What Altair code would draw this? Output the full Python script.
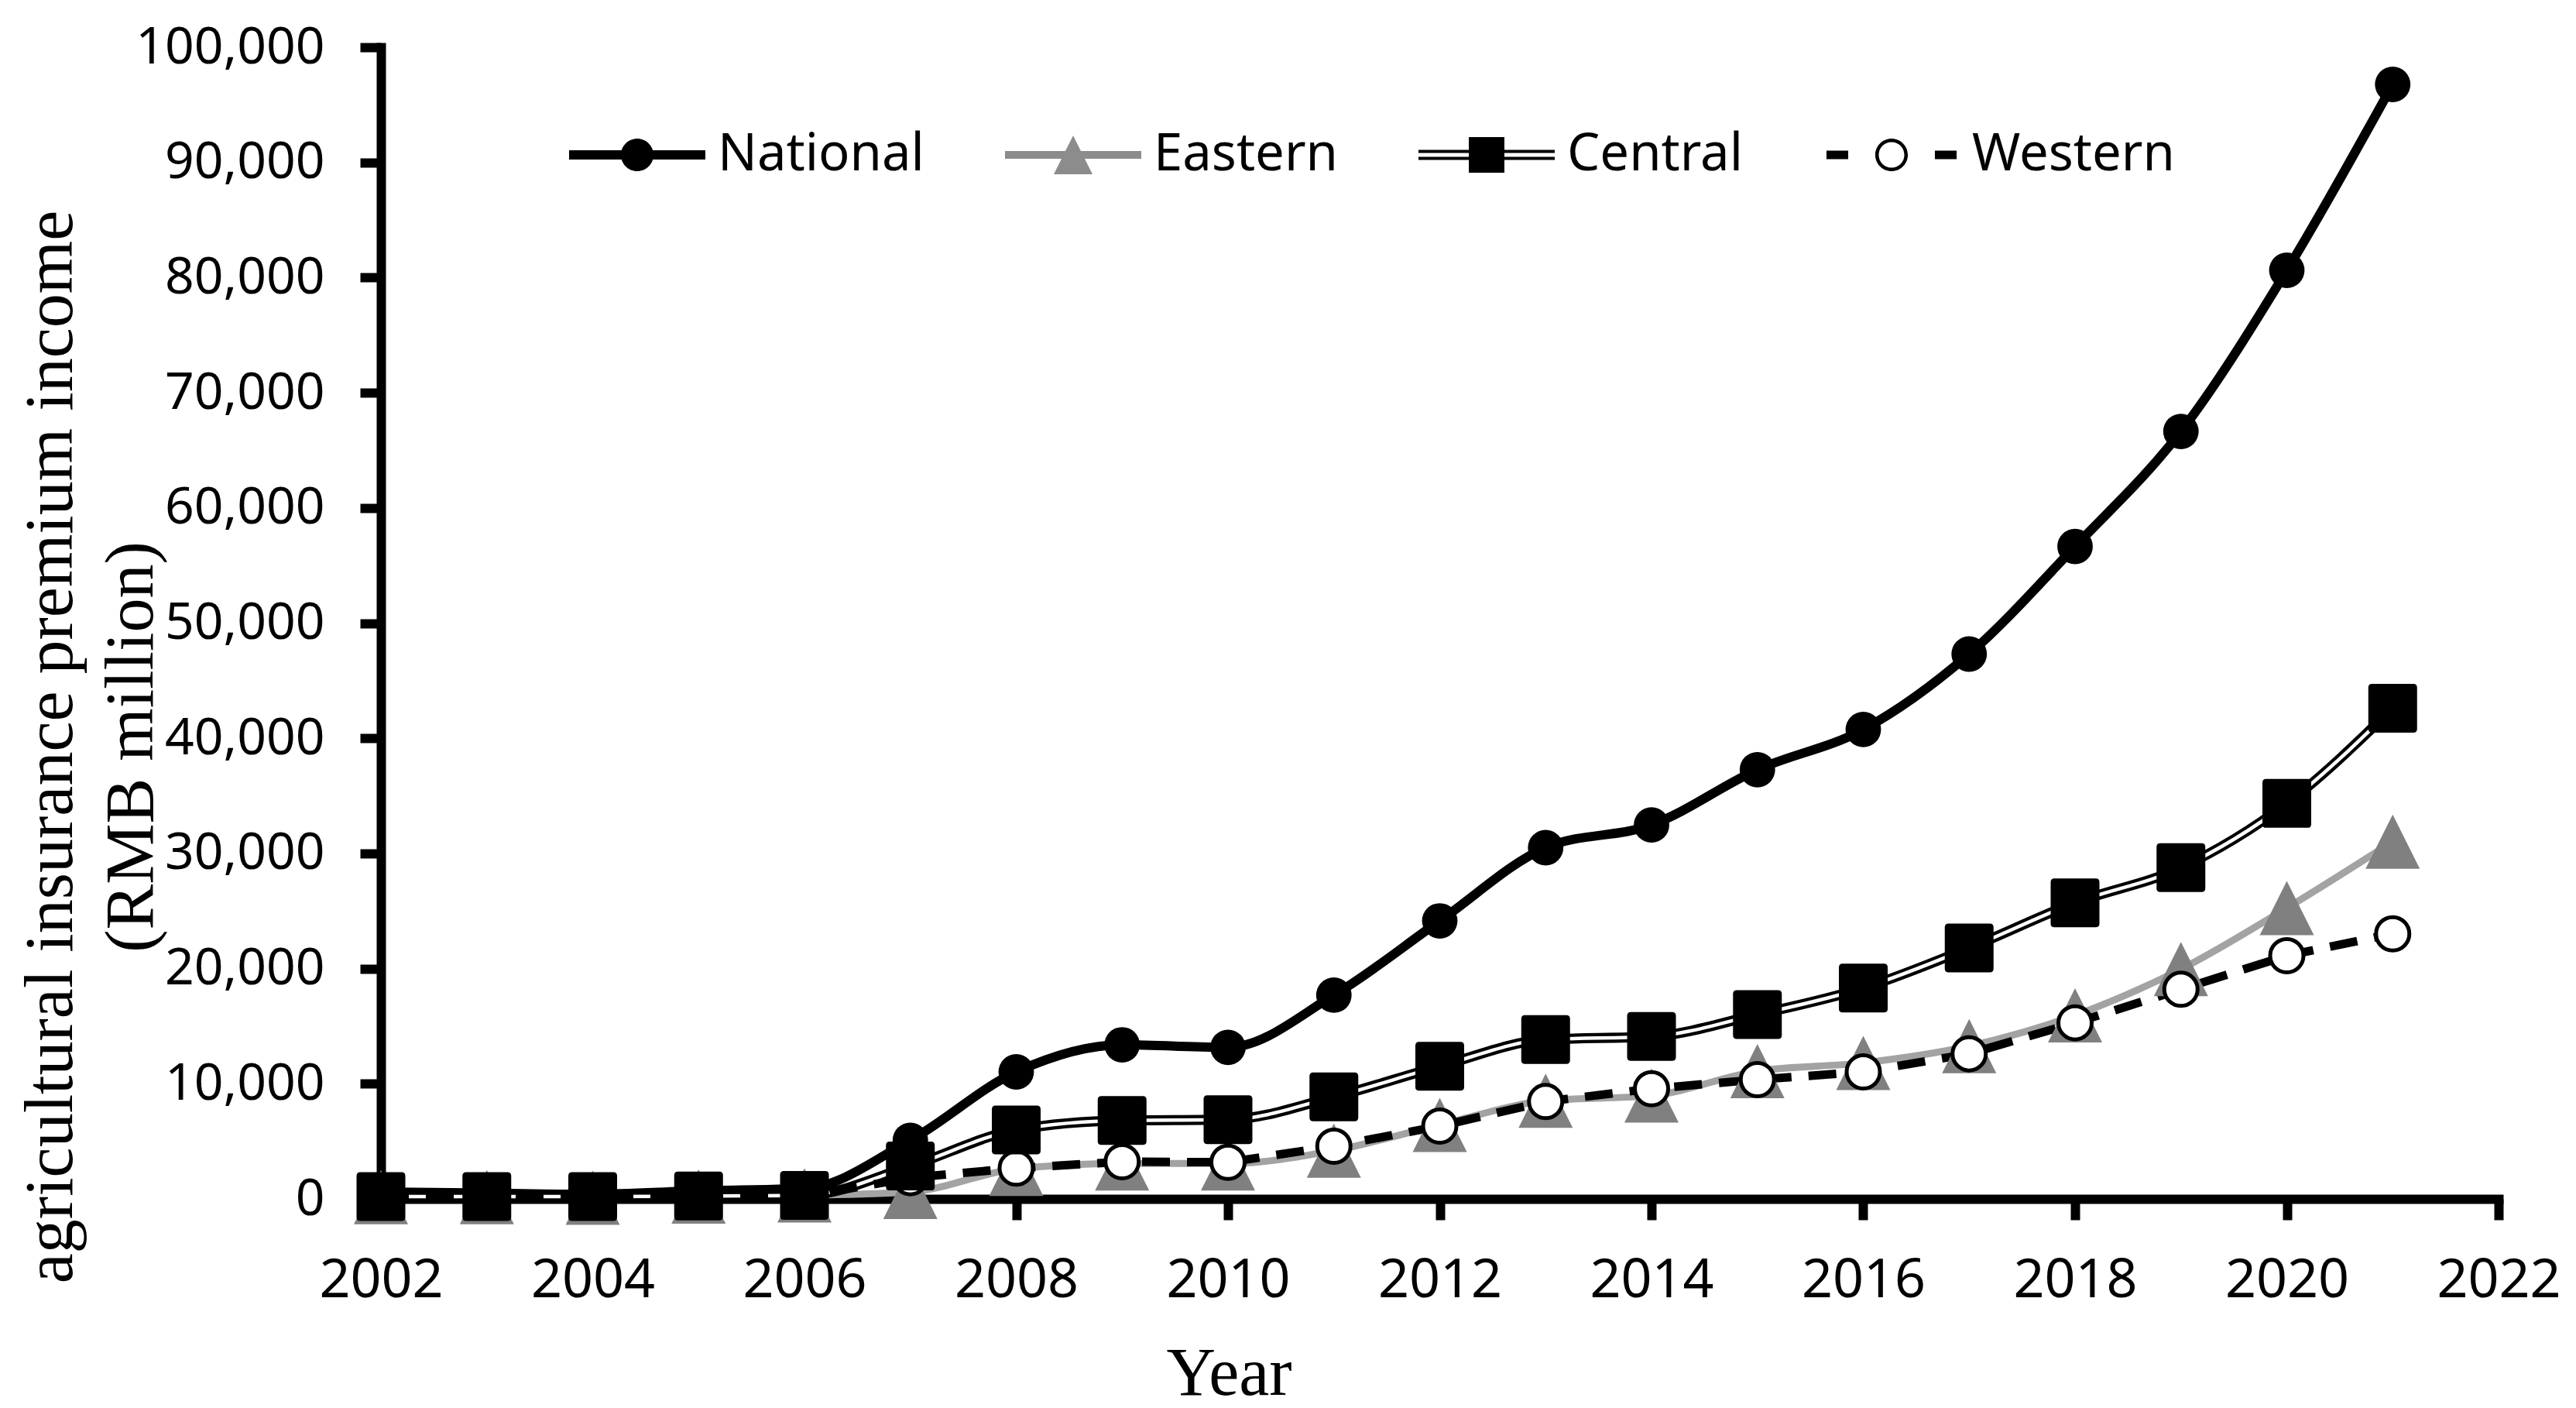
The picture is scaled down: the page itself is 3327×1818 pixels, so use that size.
import altair as alt
import pandas as pd

# ---- data (RMB million) ----
years = list(range(2002, 2022))
national = [600, 500, 400, 700, 900, 5090, 11030, 13380, 13160, 17690, 24140, 30500,
            32470, 37270, 40760, 47310, 56650, 66640, 80630, 96770]
eastern = [150, 150, 100, 200, 300, 600, 2600, 3070, 3070, 4190, 6430, 8520,
           8970, 11100, 11810, 13270, 15940, 19950, 25260, 31020]
central = [200, 200, 200, 250, 300, 2850, 5990, 6810, 6880, 8860, 11520, 13830,
           14100, 16010, 18310, 21790, 25710, 28760, 34340, 42600]
western = [100, 100, 100, 150, 200, 1840, 2670, 3230, 3180, 4570, 6320, 8450,
           9570, 10360, 11030, 12600, 15290, 18200, 21120, 23020]

series_names = ["National", "Eastern", "Central", "Western"]
x_ticks = list(range(2002, 2023, 2))
y_ticks = list(range(0, 100001, 10000))
y_title = ["agricultural insurance premium income", "(RMB million)"]

df = pd.DataFrame({"Year": years, "National": national, "Eastern": eastern,
                   "Central": central, "Western": western})
long = df.melt(id_vars="Year", var_name="Series", value_name="Value")

# ---- symbol paths ----
TRI = "M0,-1L1,1L-1,1Z"
SQR = ("M-1,-0.85Q-1,-1 -0.85,-1H0.85Q1,-1 1,-0.85V0.85Q1,1 0.85,1"
       "H-0.85Q-1,1 -1,0.85Z")
LEG_NAT = ("M-1,-0.068H1V0.068H-1Z "
           "M-0.239,0A0.239,0.239 0 1,1 0.239,0A0.239,0.239 0 1,1 -0.239,0Z")
LEG_EAS = "M-1,-0.057H1V0.057H-1Z M0,-0.284L0.284,0.284L-0.284,0.284Z"
LEG_CEN = ("M-1,-0.074H1V-0.028H-1Z M-1,0.028H1V0.074H-1Z "
           "M-0.261,-0.261H0.261V0.261H-0.261Z")
LEG_WES = ("M-0.955,-0.0625H-0.636V0.0625H-0.955Z M0.636,-0.0625H0.955V0.0625H0.636Z "
           "M-0.239,0A0.239,0.239 0 1,1 0.239,0A0.239,0.239 0 1,1 -0.239,0Z "
           "M-0.188,0A0.188,0.188 0 1,0 0.188,0A0.188,0.188 0 1,0 -0.188,0Z")

W, H = 2735, 1487

x_enc = alt.X(
    "Year:Q",
    scale=alt.Scale(domain=[2002, 2022], nice=False, zero=False),
    axis=alt.Axis(values=x_ticks, format="d", title="Year",
                  labelFontSize=70, labelPadding=44, labelFlush=False,
                  labelLimit=500,
                  titleX=1095, titleY=252, titleBaseline="alphabetic",
                  titleAlign="center"),
)
y_enc = alt.Y(
    "Value:Q",
    scale=alt.Scale(domain=[0, 100000], nice=False),
    axis=alt.Axis(values=y_ticks, format=",d", title=y_title,
                  labelFontSize=66, labelPadding=46, labelFlush=False,
                  labelLimit=500,
                  titleX=-400, titleY=903, titleAngle=270,
                  titleBaseline="alphabetic", titleAlign="center",
                  titleLineHeight=104),
)

base = alt.Chart(long).encode(x=x_enc, y=y_enc)


def sel(name):
    return base.transform_filter(alt.datum.Series == name)


nat_line = sel("National").mark_line(color="black", strokeWidth=12, interpolate="monotone")
nat_pts = sel("National").mark_point(shape="circle", filled=True, color="black",
                                     size=2100, opacity=1, strokeWidth=0)
eas_line = sel("Eastern").mark_line(color="#a3a3a3", strokeWidth=9, interpolate="monotone")
eas_pts = sel("Eastern").mark_point(shape=TRI, filled=True, color="#808080",
                                    size=4900, opacity=1, strokeWidth=0)
cen_line_o = sel("Central").mark_line(color="black", strokeWidth=13, interpolate="monotone")
cen_line_i = sel("Central").mark_line(color="white", strokeWidth=4.5, interpolate="monotone")
cen_pts = sel("Central").mark_point(shape=SQR, filled=True, color="black",
                                    size=3969, opacity=1, strokeWidth=0)
wes_line = sel("Western").mark_line(color="black", strokeWidth=11, strokeDash=[36, 22])
wes_pts = sel("Western").mark_point(shape="circle", filled=True, fill="white",
                                    stroke="black", strokeWidth=5, size=1849, opacity=1)

legend = alt.Legend(
    title=None, orient="none", legendX=243, legendY=51, direction="horizontal",
    columns=4, columnPadding=104, symbolSize=30976, symbolStrokeWidth=0,
    symbolOpacity=1, labelFont="Noto Sans", labelFontSize=67, labelColor="black",
    labelOffset=16, labelLimit=600, padding=0,
)
leg_layer = base.transform_filter("false").mark_point(filled=True, opacity=1).encode(
    shape=alt.Shape("Series:N", scale=alt.Scale(domain=series_names,
                    range=[LEG_NAT, LEG_EAS, LEG_CEN, LEG_WES]), legend=legend),
    color=alt.Color("Series:N", scale=alt.Scale(domain=series_names,
                    range=["black", "#8c8c8c", "black", "black"]), legend=legend),
)

chart = alt.layer(
    nat_line, eas_line, cen_line_o, cen_line_i, wes_line,
    nat_pts, eas_pts, wes_pts, cen_pts,
    leg_layer,
).properties(
    width=W, height=H,
    padding={"left": 14, "top": 20, "right": 5, "bottom": 5},
    background="white",
).configure_view(stroke=None).configure_axis(
    grid=False,
    domainColor="black", domainWidth=12, domainCap="square",
    tickColor="black", tickWidth=12, tickSize=27,
    labelColor="black", labelFont="Noto Sans",
    titleColor="black", titleFont="Liberation Serif", titleFontSize=88,
    titleFontWeight="normal",
)

chart.save("out.html", embed_options={"renderer": "svg", "actions": False})
